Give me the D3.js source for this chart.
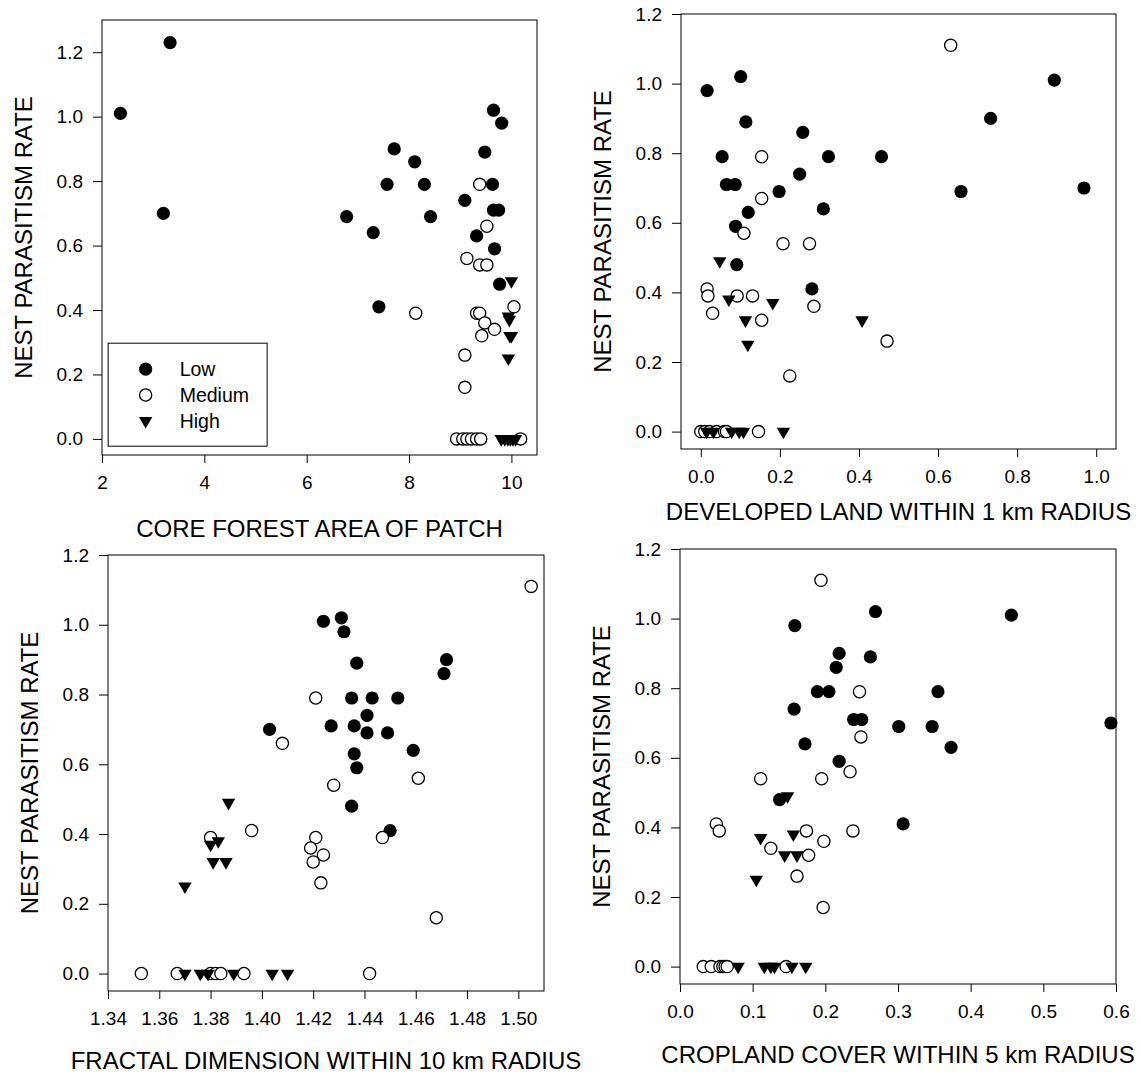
<!DOCTYPE html>
<html><head><meta charset="utf-8">
<script src="https://cdn.jsdelivr.net/npm/d3@7/dist/d3.min.js"></script>
<style>
body{margin:0;background:#fff}
text{font-family:"Liberation Sans",Arial,Helvetica,sans-serif;fill:#000}
</style>
</head><body>
<svg id="chart" width="1140" height="1076"></svg>
<script>
// ---------- tick labels / categories ----------
const categories = ["Low", "Medium", "High"];
const yTicks = [0, 0.2, 0.4, 0.6, 0.8, 1.0, 1.2];
const coreTicks = [2, 4, 6, 8, 10];
const devTicks = [0, 0.2, 0.4, 0.6, 0.8, 1.0];
const fracTicks = [1.34, 1.36, 1.38, 1.40, 1.42, 1.44, 1.46, 1.48, 1.50];
const cropTicks = [0, 0.1, 0.2, 0.3, 0.4, 0.5, 0.6];
const yTitle = "NEST PARASITISM RATE";

// ---------- panel 1: core forest area of patch ----------
const coreLow = [[2.36,1.01],[3.33,1.23],[3.20,0.70],[7.71,0.90],[8.11,0.86],[7.57,0.79],[8.30,0.79],[6.78,0.69],[8.42,0.69],[7.30,0.64],[7.41,0.41],[9.09,0.74],[9.32,0.63],[9.48,0.89],[9.65,1.02],[9.81,0.98],[9.63,0.79],[9.65,0.71],[9.75,0.71],[9.67,0.59],[9.77,0.48]];
const coreMedium = [[8.13,0.39],[9.38,0.79],[9.52,0.66],[9.13,0.56],[9.38,0.54],[9.52,0.54],[9.32,0.39],[9.38,0.39],[9.48,0.36],[9.42,0.32],[9.67,0.34],[10.05,0.41],[9.09,0.26],[9.09,0.16],[8.93,0],[9.05,0],[9.13,0],[9.22,0],[9.32,0],[9.40,0],[10.18,0]];
const coreHigh = [[10.0,0.49],[9.94,0.38],[9.96,0.37],[10.0,0.32],[9.97,0.32],[9.94,0.25],[9.80,0],[9.87,0],[9.93,0],[9.98,0],[10.03,0],[10.08,0]];

// ---------- panel 2: developed land within 1 km ----------
const devLow = [[0.016,0.98],[0.101,1.02],[0.114,0.89],[0.894,1.01],[0.733,0.90],[0.258,0.86],[0.054,0.79],[0.323,0.79],[0.457,0.79],[0.250,0.74],[0.065,0.71],[0.087,0.71],[0.198,0.69],[0.658,0.69],[0.969,0.70],[0.310,0.64],[0.120,0.63],[0.088,0.59],[0.091,0.48],[0.281,0.41]];
const devMedium = [[0.632,1.11],[0.154,0.79],[0.154,0.67],[0.109,0.57],[0.208,0.54],[0.275,0.54],[0.016,0.41],[0.018,0.39],[0.092,0.39],[0.131,0.39],[0.286,0.36],[0.030,0.34],[0.154,0.32],[0.471,0.26],[0.225,0.16],[0.146,0],[0.000,0],[0.010,0],[0.022,0],[0.040,0],[0.060,0],[0.065,0]];
const devHigh = [[0.048,0.49],[0.071,0.38],[0.182,0.37],[0.113,0.32],[0.408,0.32],[0.119,0.25],[0.209,0],[0.015,0],[0.032,0],[0.078,0],[0.097,0],[0.108,0]];

// ---------- panel 3: fractal dimension within 10 km ----------
const fracLow = [[1.424,1.01],[1.431,1.02],[1.432,0.98],[1.437,0.89],[1.472,0.90],[1.471,0.86],[1.435,0.79],[1.443,0.79],[1.453,0.79],[1.441,0.74],[1.427,0.71],[1.436,0.71],[1.403,0.70],[1.441,0.69],[1.449,0.69],[1.459,0.64],[1.436,0.63],[1.437,0.59],[1.435,0.48],[1.450,0.41]];
const fracMedium = [[1.505,1.11],[1.421,0.79],[1.408,0.66],[1.428,0.54],[1.461,0.56],[1.396,0.41],[1.380,0.39],[1.421,0.39],[1.447,0.39],[1.419,0.36],[1.424,0.34],[1.420,0.32],[1.423,0.26],[1.468,0.16],[1.353,0],[1.367,0],[1.380,0],[1.382,0],[1.384,0],[1.393,0],[1.442,0]];
const fracHigh = [[1.387,0.49],[1.370,0.25],[1.380,0.37],[1.383,0.38],[1.381,0.32],[1.386,0.32],[1.370,0],[1.376,0],[1.379,0],[1.389,0],[1.404,0],[1.410,0]];

// ---------- panel 4: cropland cover within 5 km ----------
const cropLow = [[0.158,0.98],[0.269,1.02],[0.456,1.01],[0.219,0.90],[0.262,0.89],[0.215,0.86],[0.189,0.79],[0.205,0.79],[0.355,0.79],[0.157,0.74],[0.239,0.71],[0.250,0.71],[0.301,0.69],[0.347,0.69],[0.593,0.70],[0.172,0.64],[0.373,0.63],[0.219,0.59],[0.137,0.48],[0.307,0.41]];
const cropMedium = [[0.194,1.11],[0.247,0.79],[0.249,0.66],[0.234,0.56],[0.111,0.54],[0.195,0.54],[0.050,0.41],[0.054,0.39],[0.174,0.39],[0.238,0.39],[0.198,0.36],[0.125,0.34],[0.177,0.32],[0.161,0.26],[0.197,0.17],[0.032,0],[0.043,0],[0.055,0],[0.059,0],[0.062,0],[0.065,0],[0.146,0]];
const cropHigh = [[0.148,0.49],[0.111,0.37],[0.156,0.38],[0.144,0.32],[0.161,0.32],[0.105,0.25],[0.080,0],[0.116,0],[0.125,0],[0.130,0],[0.154,0],[0.173,0]];

// ---------- layout ----------
const panels = [
  {x:102, y:20,  w:435, h:435, xd:[2,10.5],     yd:[-0.05,1.30], xt:coreTicks, fmt:d3.format("d"),   title:"CORE FOREST AREA OF PATCH",              tdy:82, data:[coreLow,coreMedium,coreHigh], legend:true},
  {x:681, y:14,  w:435, h:435, xd:[-0.05,1.05], yd:[-0.05,1.2],  xt:devTicks,  fmt:d3.format(".1f"), title:"DEVELOPED LAND WITHIN 1 km RADIUS",      tdy:71, data:[devLow,devMedium,devHigh]},
  {x:108, y:555, w:436, h:436, xd:[1.34,1.51],  yd:[-0.05,1.2],  xt:fracTicks, fmt:d3.format(".2f"), title:"FRACTAL DIMENSION WITHIN 10 km RADIUS", tdy:78, data:[fracLow,fracMedium,fracHigh]},
  {x:680, y:549, w:436, h:435, xd:[0,0.6],      yd:[-0.05,1.2],  xt:cropTicks, fmt:d3.format(".1f"), title:"CROPLAND COVER WITHIN 5 km RADIUS",      tdy:79, data:[cropLow,cropMedium,cropHigh]}
];

const svg = d3.select("#chart");
const tri = d3.symbol().type(d3.symbolTriangle).size(78);

function drawMarker(sel, cat) {
  if (cat === "Low") {
    sel.append("circle").attr("r", 6.6).attr("fill", "#000");
  } else if (cat === "Medium") {
    sel.append("circle").attr("r", 6.1).attr("fill", "#fff").attr("stroke", "#000").attr("stroke-width", 1.3);
  } else {
    sel.append("path").attr("d", tri).attr("transform", "rotate(180)").attr("fill", "#000");
  }
}

panels.forEach(p => {
  const g = svg.append("g").attr("transform", `translate(${p.x},${p.y})`);
  const x = d3.scaleLinear().domain(p.xd).range([0, p.w]);
  const y = d3.scaleLinear().domain(p.yd).range([p.h, 0]);

  const xa = g.append("g").attr("transform", `translate(0,${p.h})`)
    .call(d3.axisBottom(x).tickValues(p.xt).tickFormat(p.fmt).tickSize(8).tickPadding(13));
  const ya = g.append("g")
    .call(d3.axisLeft(y).tickValues(yTicks).tickFormat(d3.format(".1f")).tickSize(9).tickPadding(10));
  [xa, ya].forEach(a => {
    a.select(".domain").remove();
    a.selectAll("line").attr("stroke", "#000").attr("stroke-width", 1);
    a.selectAll("text").attr("font-size", 19).attr("fill", "#000")
      .style("font-family", '"Liberation Sans", Arial, sans-serif');
  });

  // data: Low, Medium, High
  categories.forEach((cat, i) => {
    g.append("g").selectAll("g").data(p.data[i]).join("g")
      .attr("transform", d => `translate(${x(d[0])},${y(d[1])})`)
      .each(function () { drawMarker(d3.select(this), cat); });
  });

  g.append("rect").attr("width", p.w).attr("height", p.h)
    .attr("fill", "none").attr("stroke", "#000").attr("stroke-width", 1);

  g.append("text").attr("x", p.w / 2).attr("y", p.h + p.tdy)
    .attr("text-anchor", "middle").attr("font-size", 24).text(p.title);
  g.append("text").attr("transform", `translate(-70,${p.h / 2}) rotate(-90)`)
    .attr("text-anchor", "middle").attr("font-size", 24).text(yTitle);

  if (p.legend) {
    const lg = g.append("g").attr("transform", `translate(${x(2.12)},${y(0.297)})`);
    lg.append("rect").attr("width", 159).attr("height", 103)
      .attr("fill", "#fff").attr("stroke", "#000").attr("stroke-width", 1);
    categories.forEach((cat, i) => {
      const row = lg.append("g").attr("transform", `translate(37.5,${26 + i * 25.8})`);
      drawMarker(row, cat);
      row.append("text").attr("x", 34).attr("y", 7).attr("font-size", 19.5).text(cat);
    });
  }
});
</script>
</body></html>
